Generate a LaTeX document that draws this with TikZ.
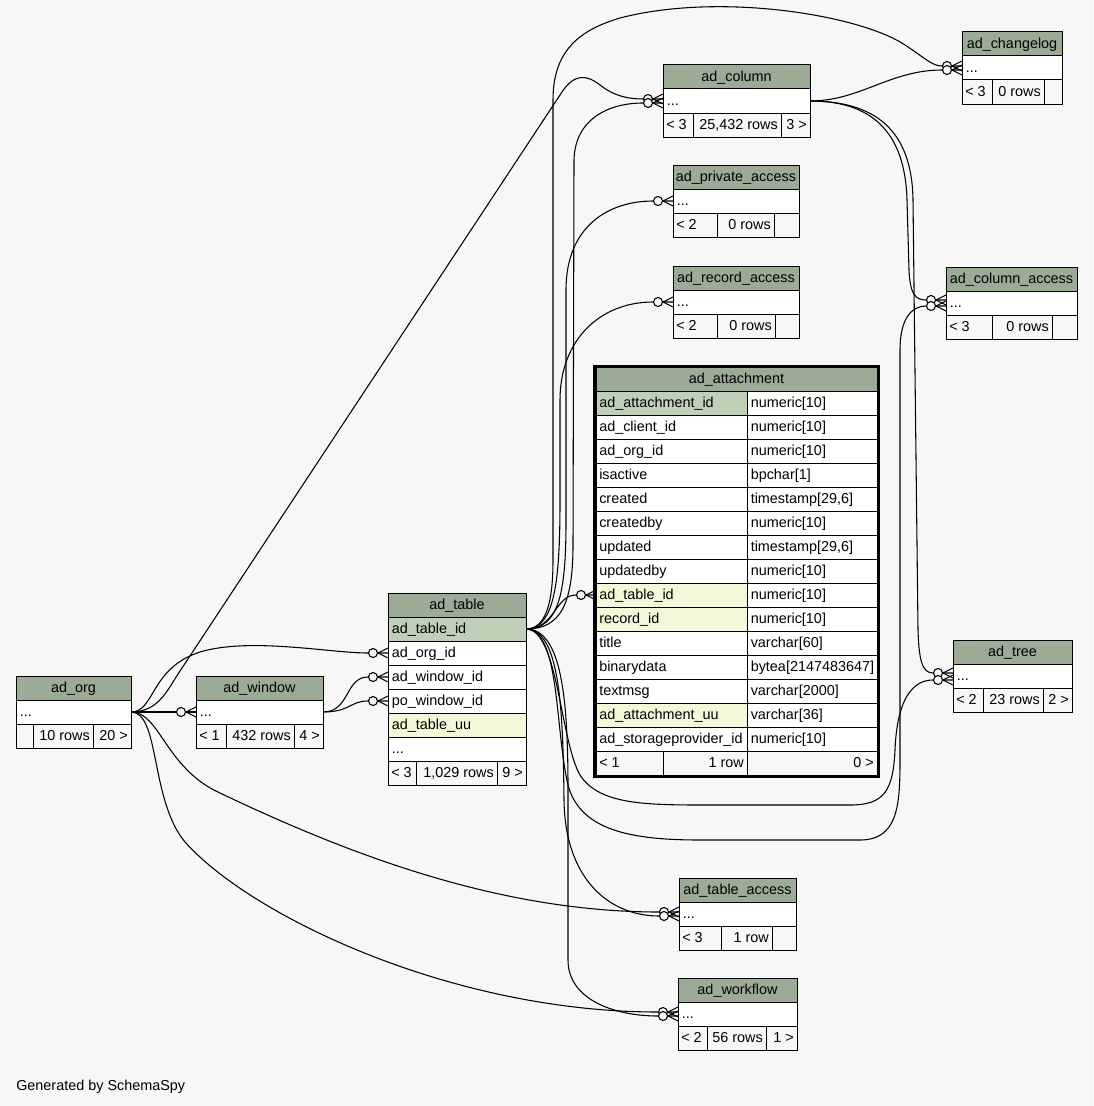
\documentclass[tikz,border=0pt]{standalone}
\usepackage{fontspec}
\setmainfont{Liberation Sans}
\definecolor{bg}{HTML}{F7F7F7}
\definecolor{headc}{HTML}{9BAB96}
\definecolor{pkc}{HTML}{BED1B8}
\definecolor{idxc}{HTML}{F4F7DA}
\tikzset{
  cell/.style={draw=black,line width=0.75pt},
  txt/.style={inner sep=0pt,font=\fontsize{10.8}{13}\selectfont,text=black},
  edge/.style={draw=black,line width=0.8pt},
}
\newcommand\thead[5]{%
  \draw[cell,fill=headc] (#2,#4) rectangle (#3,#4+24);
  \node[txt,anchor=base] (#1) at ({(#2+#3)/2},#4+16.5) {#5};}
\newcommand\trow[6]{%
  \draw[cell,fill=#5] (#2,#4) rectangle (#3,#4+24);
  \node[txt,anchor=base west] (#1) at (#2+3.5,#4+16.5) {#6};}
\newcommand\fl[5]{%
  \draw[cell,fill=bg] (#2,#4) rectangle (#3,#4+24);
  \node[txt,anchor=base west] (#1) at (#2+3,#4+16.5) {#5};}
\newcommand\fr[5]{%
  \draw[cell,fill=bg] (#2,#4) rectangle (#3,#4+24);
  \node[txt,anchor=base east] (#1) at (#3-3,#4+16.5) {#5};}
\newcommand\fe[3]{%
  \draw[cell,fill=bg] (#1,#3) rectangle (#2,#3+24);}
\newcommand\arow[5]{%
  \draw[cell,fill=#3] (596,#2) rectangle (747,#2+24);
  \draw[cell,fill=white] (747,#2) rectangle (877,#2+24);
  \node[txt,anchor=base west] (#1) at (599,#2+16.5) {#4};
  \node[txt,anchor=base west] (#1-t) at (750.5,#2+16.5) {#5};}
\newcommand\mk[1]{%
  \draw[edge] ([xshift=-7.5pt]#1) -- ([yshift=3.75pt]#1)
              ([xshift=-7.5pt]#1) -- ([yshift=-3.75pt]#1);
  \draw[edge,fill=bg] ([xshift=-11.25pt]#1) circle[radius=4.5];}
\begin{document}
\begin{tikzpicture}[x=0.75pt,y=-0.75pt]
\fill[bg] (0,0) rectangle (1093,1106);
\useasboundingbox (0,0) rectangle (1093,1106);

% ports
\coordinate (org-r) at (131,712);
\coordinate (win-l) at (196,712);
\coordinate (win-r) at (323,712);
\coordinate (tab-org) at (388,653);
\coordinate (tab-win) at (388,677);
\coordinate (tab-powin) at (388,701);
\coordinate (tab-r) at (526,629);
\coordinate (att-tab) at (596,595);
\coordinate (col-a) at (663,99);
\coordinate (col-b) at (663,103);
\coordinate (col-r) at (810,101);
\coordinate (chg-a) at (962,66);
\coordinate (chg-b) at (962,70);
\coordinate (pa-l) at (673,201);
\coordinate (ra-l) at (673,302);
\coordinate (ca-a) at (946,300);
\coordinate (ca-b) at (946,306);
\coordinate (tree-a) at (953,673);
\coordinate (tree-b) at (953,680);
\coordinate (ta-a) at (679,912);
\coordinate (ta-b) at (679,916);
\coordinate (wf-a) at (678,1012);
\coordinate (wf-b) at (678,1016);

% edges
\draw[edge] (org-r) -- (win-l);
\draw[edge] (org-r) .. controls (155,712) and (150,668) .. (200,652) .. controls (250,637) and (330,653) .. (368,653) -- (tab-org);
\draw[edge] (win-r) .. controls (350,712) and (345,677) .. (368,677) -- (tab-win);
\draw[edge] (win-r) .. controls (350,712) and (350,701) .. (368,701) -- (tab-powin);
\draw[edge] (org-r) .. controls (160,712) and (168,688) .. (182,668) -- (562,92) .. controls (574,74) and (586,74) .. (600,85) .. controls (614,96) and (628,99) .. (643,99) -- (col-a);
\draw[edge] (org-r) .. controls (160,712) and (165,768) .. (220,793) .. controls (350,855) and (500,912) .. (659,912) -- (ta-a);
\draw[edge] (org-r) .. controls (160,712) and (150,800) .. (185,842) .. controls (250,915) and (450,1012) .. (658,1012) -- (wf-a);
\draw[edge] (tab-r) .. controls (555,629) and (555,595) .. (576,595) -- (att-tab);
\draw[edge] (tab-r) .. controls (560,629) and (573,605) .. (573,545) -- (574,160) .. controls (575,118) and (610,103) .. (643,103) -- (col-b);
\draw[edge] (tab-r) .. controls (545,629) and (553,605) .. (553,560) -- (553,100) .. controls (553,50) and (580,30) .. (620,18) .. controls (720,-8) and (860,15) .. (905,45) .. controls (925,58) and (932,66) .. (942,66) -- (chg-a);
\draw[edge] (col-r) .. controls (860,101) and (890,70) .. (942,70) -- (chg-b);
\draw[edge] (tab-r) .. controls (560,629) and (566,590) .. (566,520) -- (566,290) .. controls (566,225) and (610,201) .. (653,201) -- (pa-l);
\draw[edge] (tab-r) .. controls (555,629) and (560,580) .. (560,500) -- (560,400) .. controls (560,340) and (600,302) .. (653,302) -- (ra-l);
\draw[edge] (col-r) .. controls (870,101) and (905,130) .. (907,200) -- (909,270) .. controls (910,295) and (916,300) .. (926,300) -- (ca-a);
\draw[edge] (col-r) .. controls (875,101) and (912,130) .. (913,200) -- (918,630) .. controls (919,660) and (922,673) .. (933,673) -- (tree-a);
\draw[edge] (tab-r) .. controls (560,629) and (555,730) .. (568,785) .. controls (580,830) and (630,840) .. (700,840) -- (860,840) .. controls (898,840) and (900,805) .. (900,760) -- (900,350) .. controls (900,318) and (912,306) .. (926,306) -- (ca-b);
\draw[edge] (tab-r) .. controls (558,629) and (560,740) .. (580,775) .. controls (598,803) and (640,805) .. (700,805) -- (850,805) .. controls (885,805) and (893,790) .. (895,750) .. controls (897,700) and (912,680) .. (933,680) -- (tree-b);
\draw[edge] (tab-r) .. controls (560,629) and (563,710) .. (564,800) .. controls (565,880) and (610,916) .. (659,916) -- (ta-b);
\draw[edge] (tab-r) .. controls (562,629) and (568,700) .. (568,790) -- (568,960) .. controls (568,1000) and (615,1016) .. (658,1016) -- (wf-b);

% ad_changelog
\thead{chg}{962}{1062}{32}{ad\_changelog}
\trow{chg-1}{962}{1062}{56}{white}{...}
\fl{chg-f1}{962}{992}{80}{< 3}
\fr{chg-f2}{992}{1044}{80}{0 rows}
\fe{1044}{1062}{80}
% ad_column
\thead{col}{663}{810}{65}{ad\_column}
\trow{col-1}{663}{810}{89}{white}{...}
\fl{col-f1}{663}{693}{113}{< 3}
\fr{col-f2}{693}{781}{113}{25,432 rows}
\fr{col-f3}{781}{810}{113}{3 >}
% ad_private_access
\thead{pa}{673}{799}{165}{ad\_private\_access}
\trow{pa-1}{673}{799}{189}{white}{...}
\fl{pa-f1}{673}{717}{213}{< 2}
\fr{pa-f2}{717}{774}{213}{0 rows}
\fe{774}{799}{213}
% ad_record_access
\thead{ra}{673}{799}{266}{ad\_record\_access}
\trow{ra-1}{673}{799}{290}{white}{...}
\fl{ra-f1}{673}{717}{314}{< 2}
\fr{ra-f2}{717}{775}{314}{0 rows}
\fe{775}{799}{314}
% ad_column_access
\thead{ca}{946}{1077}{267}{ad\_column\_access}
\trow{ca-1}{946}{1077}{291}{white}{...}
\fl{ca-f1}{946}{992}{315}{< 3}
\fr{ca-f2}{992}{1052}{315}{0 rows}
\fe{1052}{1077}{315}
% ad_tree
\thead{tree}{953}{1072}{640}{ad\_tree}
\trow{tree-1}{953}{1072}{664}{white}{...}
\fl{tree-f1}{953}{983}{688}{< 2}
\fr{tree-f2}{983}{1043}{688}{23 rows}
\fr{tree-f3}{1043}{1072}{688}{2 >}
% ad_table_access
\thead{ta}{679}{796}{878}{ad\_table\_access}
\trow{ta-1}{679}{796}{902}{white}{...}
\fl{ta-f1}{679}{721}{926}{< 3}
\fr{ta-f2}{721}{772}{926}{1 row}
\fe{772}{796}{926}
% ad_workflow
\thead{wf}{678}{797}{978}{ad\_workflow}
\trow{wf-1}{678}{797}{1002}{white}{...}
\fl{wf-f1}{678}{707}{1026}{< 2}
\fr{wf-f2}{707}{766}{1026}{56 rows}
\fr{wf-f3}{766}{797}{1026}{1 >}
% ad_org
\thead{org}{16}{131}{676}{ad\_org}
\trow{org-1}{16}{131}{700}{white}{...}
\fe{16}{33}{724}
\fr{org-f2}{33}{93}{724}{10 rows}
\fr{org-f3}{93}{131}{724}{20 >}
% ad_window
\thead{win}{196}{323}{676}{ad\_window}
\trow{win-1}{196}{323}{700}{white}{...}
\fl{win-f1}{196}{226}{724}{< 1}
\fr{win-f2}{226}{294}{724}{432 rows}
\fr{win-f3}{294}{323}{724}{4 >}
% ad_table
\thead{tab}{388}{526}{593}{ad\_table}
\trow{tab-1}{388}{526}{617}{pkc}{ad\_table\_id}
\trow{tab-2}{388}{526}{641}{white}{ad\_org\_id}
\trow{tab-3}{388}{526}{665}{white}{ad\_window\_id}
\trow{tab-4}{388}{526}{689}{white}{po\_window\_id}
\trow{tab-5}{388}{526}{713}{idxc}{ad\_table\_uu}
\trow{tab-6}{388}{526}{737}{white}{...}
\fl{tab-f1}{388}{416}{761}{< 3}
\fr{tab-f2}{416}{497}{761}{1,029 rows}
\fr{tab-f3}{497}{526}{761}{9 >}
% ad_attachment
\draw[cell,fill=headc] (596,367) rectangle (877,391);
\node[txt,anchor=base] (att) at (736.5,383.5) {ad\_attachment};
\arow{att-1}{391}{pkc}{ad\_attachment\_id}{numeric[10]}
\arow{att-2}{415}{white}{ad\_client\_id}{numeric[10]}
\arow{att-3}{439}{white}{ad\_org\_id}{numeric[10]}
\arow{att-4}{463}{white}{isactive}{bpchar[1]}
\arow{att-5}{487}{white}{created}{timestamp[29,6]}
\arow{att-6}{511}{white}{createdby}{numeric[10]}
\arow{att-7}{535}{white}{updated}{timestamp[29,6]}
\arow{att-8}{559}{white}{updatedby}{numeric[10]}
\arow{att-9}{583}{idxc}{ad\_table\_id}{numeric[10]}
\arow{att-10}{607}{idxc}{record\_id}{numeric[10]}
\arow{att-11}{631}{white}{title}{varchar[60]}
\arow{att-12}{655}{white}{binarydata}{bytea[2147483647]}
\arow{att-13}{679}{white}{textmsg}{varchar[2000]}
\arow{att-14}{703}{idxc}{ad\_attachment\_uu}{varchar[36]}
\arow{att-15}{727}{white}{ad\_storageprovider\_id}{numeric[10]}
\fl{att-f1}{596}{663}{751}{< 1}
\fr{att-f2}{663}{747}{751}{1 row}
\fr{att-f3}{747}{877}{751}{0 >}
\draw[line width=2.25pt] (594.5,366) rectangle (878.5,776.5);

% markers
\mk{win-l}\mk{tab-org}\mk{tab-win}\mk{tab-powin}\mk{att-tab}
\mk{col-a}\mk{col-b}\mk{chg-a}\mk{chg-b}\mk{pa-l}\mk{ra-l}
\mk{ca-a}\mk{ca-b}\mk{tree-a}\mk{tree-b}\mk{ta-a}\mk{ta-b}\mk{wf-a}\mk{wf-b}

\node[txt,anchor=base west] (gen) at (16,1090) {Generated by SchemaSpy};
\end{tikzpicture}
\end{document}
